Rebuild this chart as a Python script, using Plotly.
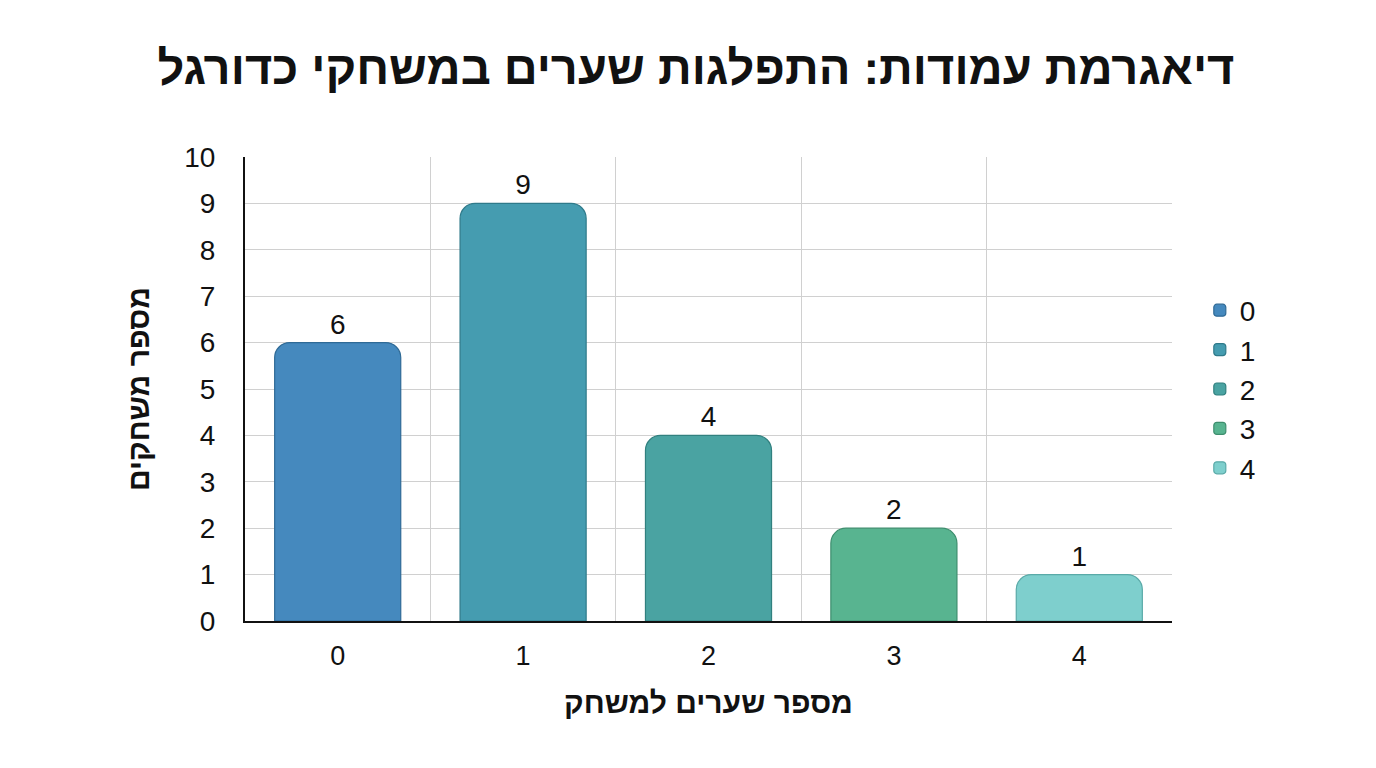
import plotly.graph_objects as go

categories = ["0", "1", "2", "3", "4"]
counts = [6, 9, 4, 2, 1]
colors = ["#4589BE", "#459CB0", "#4AA3A2", "#58B490", "#7ECFCD"]
borders = ["#2F6A96", "#2F7A8A", "#31807F", "#3E8E6E", "#5AAAA8"]

title_text = "דיאגרמת עמודות: התפלגות שערים במשחקי כדורגל"
x_title = "מספר שערים למשחק"
y_title = "מספר משחקים"

fig = go.Figure()
for i, (c, v) in enumerate(zip(categories, counts)):
    fig.add_trace(go.Bar(
        x=[i], y=[v], name=c, width=0.68,
        marker=dict(color=colors[i], line=dict(color=borders[i], width=1.2)),
        text=[str(v)], textposition="outside",
        textfont=dict(size=28, color="#111111", family="Liberation Sans"),
        cliponaxis=False,
    ))

fig.update_layout(
    width=1376, height=768,
    paper_bgcolor="white", plot_bgcolor="white",
    margin=dict(l=237, r=212, t=149, b=155),
    barcornerradius=15,
    font=dict(family="Liberation Sans", color="#111111"),
    title=dict(text="<b>" + title_text + "</b>", x=0.5, xanchor="center",
               y=0.922, yanchor="middle",
               font=dict(size=47, family="Liberation Sans", color="#111111")),
    legend=dict(x=1.03, xanchor="left", y=0.5, yanchor="middle",
                font=dict(size=28, family="Liberation Sans"),
                itemwidth=30, tracegroupgap=4),
    showlegend=True,
    xaxis=dict(
        range=[-0.5, 4.5], tickvals=list(range(5)), ticktext=categories,
        showgrid=False, showline=True, linecolor="#111111", linewidth=2,
        ticks="", tickfont=dict(size=27), ticklabelstandoff=10,
        minor=dict(tick0=0.5, dtick=1, showgrid=True, gridcolor="#D0D0D0", gridwidth=1),
        title=dict(text="<b>" + x_title + "</b>", font=dict(size=30, family="Liberation Sans"), standoff=22),
        zeroline=False,
    ),
    yaxis=dict(
        range=[0, 10], dtick=1, showgrid=True, gridcolor="#D0D0D0", gridwidth=1,
        showline=True, linecolor="#111111", linewidth=2, ticks="",
        tickfont=dict(size=28), zeroline=False, ticklabelstandoff=22,
        title=dict(text="<b>" + y_title + "</b>", font=dict(size=30, family="Liberation Sans"), standoff=26),
    ),
)

fig.write_html("out.html")
